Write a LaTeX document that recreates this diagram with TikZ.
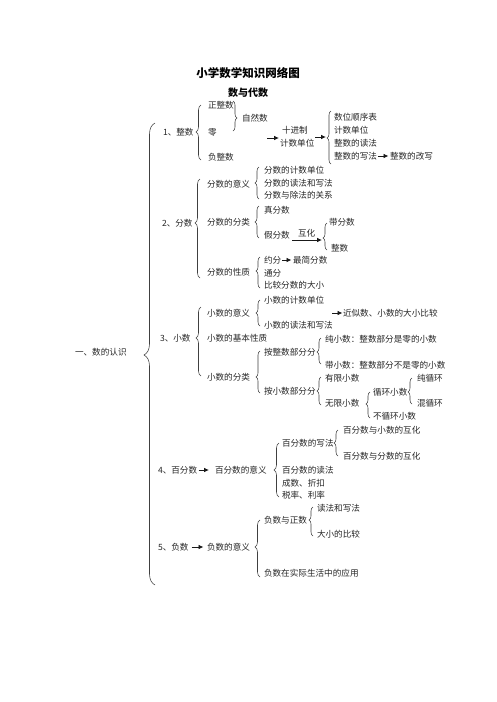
\documentclass[tikz,border=0pt]{standalone}
\usepackage{fontspec}
\setmainfont{Noto Sans CJK SC}
\usetikzlibrary{decorations.pathreplacing,arrows.meta}
\tikzset{
  t/.style={anchor=west, inner sep=0pt, outer sep=0pt, font=\fontsize{8.6}{10}\selectfont, text=black!85},
  ttl/.style={inner sep=0pt, font=\fontsize{11.5}{13}\selectfont\bfseries},
  sub/.style={inner sep=0pt, font=\fontsize{10}{12}\selectfont\bfseries},
  arr/.style={-{Latex[length=5pt,width=4.6pt]}, line width=0.8pt, black!90},
  br/.style={decorate, line width=0.55pt, black!75},
}
\newcommand\LB[5]{% x, top, tip, bottom, amplitude  (tip points left)
  \pgfmathsetmacro\brasp{(#4-#3)/(#4-#2)}
  \draw[br, decoration={brace, amplitude=#5pt, aspect=\brasp}] (#1,#4) -- (#1,#2);}
\newcommand\RB[5]{% x, top, tip, bottom, amplitude  (tip points right)
  \pgfmathsetmacro\brasp{(#3-#2)/(#4-#2)}
  \draw[br, decoration={brace, amplitude=#5pt, aspect=\brasp}] (#1,#2) -- (#1,#4);}
\begin{document}
\begin{tikzpicture}[x=1pt,y=-1pt]
\useasboundingbox (0,0) rectangle (496,702);
\fill[white] (0,0) rectangle (496,702);

\node[ttl] (title) at (248,73) {小学数学知识网络图};
\node[sub] (subt) at (248,93) {数与代数};

% big brace
\LB{155}{123}{355}{585}{11}
\node[t] (root) at (75,352) {一、数的认识};

% ---------- 1 整数
\node[t] (g1) at (163,132) {1、整数};
\LB{201}{105}{132}{160}{5}
\node[t] (zzs) at (208,105) {正整数};
\node[t] (ling) at (208,132) {零};
\node[t] (fzs) at (208,157) {负整数};
\RB{233}{101}{118}{131}{4}
\node[t] (zrs) at (242,118) {自然数};
\coordinate (a1s) at (267,138);
\node[t] (sjz) at (282,130) {十进制};
\node[t] (jsdw) at (280,143) {计数单位};
\coordinate (a1e) at (279,138);
\draw[arr] (a1s) -- (a1e);
\coordinate (a2e) at (326,137);
\draw[arr] (jsdw.east |- a2e) ++(1,0) -- (a2e);
\LB{331}{111}{138}{164}{4}
\node[t] (swsx) at (334,117) {数位顺序表};
\node[t] (jsdw2) at (334,130) {计数单位};
\node[t] (zsdf) at (334,143) {整数的读法};
\node[t] (zsxf) at (334,156) {整数的写法};
\node[t] (zsgx) at (390,156) {整数的改写};
\draw[arr] ([xshift=1pt]zsxf.east) -- ([xshift=-1.5pt]zsgx.west);

% ---------- 2 分数
\node[t] (g2) at (162,223) {2、分数};
\LB{200}{179}{223}{278}{5}
\node[t] (fsyy) at (207,184) {分数的意义};
\LB{259}{167}{183}{199}{4}
\node[t] (fsjs) at (264,170) {分数的计数单位};
\node[t] (fsdx) at (264,183) {分数的读法和写法};
\node[t] (fscf) at (264,195) {分数与除法的关系};
\node[t] (fsfl) at (207,222) {分数的分类};
\LB{259}{206}{222}{238}{4}
\node[t] (zfs) at (264,210) {真分数};
\node[t] (jfs) at (264,235) {假分数};
\node[t] (huhua) at (298,233) {互化};
\coordinate (hhs) at (292,240);
\coordinate (hhe) at (322,240);
\draw[arr] (hhs) -- (hhe);
\LB{327}{223}{238}{250}{4}
\node[t] (dfs) at (329,222) {带分数};
\node[t] (zs) at (331,248) {整数};
\node[t] (fsxz) at (207,272) {分数的性质};
\LB{260}{257}{271}{288}{4}
\node[t] (yf) at (264,260) {约分};
\node[t] (zjfs) at (293,260) {最简分数};
\draw[arr] ([xshift=1pt]yf.east) -- ([xshift=-1.5pt]zjfs.west);
\node[t] (tf) at (264,273) {通分};
\node[t] (bjfs) at (264,285) {比较分数的大小};

% ---------- 3 小数
\node[t] (g3) at (160,338) {3、小数};
\LB{201}{307}{338}{376}{5}
\node[t] (xsyy) at (207,313) {小数的意义};
\LB{260}{300}{313}{326}{4}
\node[t] (xsjs) at (264,300) {小数的计数单位};
\node[t] (xsdx) at (264,325) {小数的读法和写法};
\node[t] (jss) at (343,313) {近似数、小数的大小比较};
\coordinate (jsa) at (332,313);
\draw[arr] (jsa) -- ([xshift=-0.5pt]jss.west);
\node[t] (xsxz) at (207,338) {小数的基本性质};
\node[t] (xsfl) at (207,377) {小数的分类};
\LB{260}{351}{377}{393}{4}
\node[t] (azs) at (264,352) {按整数部分分};
\LB{321}{338}{352}{364}{4}
\node[t] (cxs) at (325,339) {纯小数：整数部分是零的小数};
\node[t] (dxs) at (325,365) {带小数：整数部分不是零的小数};
\node[t] (axs) at (264,391) {按小数部分分};
\LB{321}{377}{391}{405}{4}
\node[t] (yxxs) at (325,378) {有限小数};
\node[t] (wxxs) at (325,403) {无限小数};
\LB{370}{392}{404}{418}{4}
\node[t] (xhxs) at (373,392) {循环小数};
\LB{412}{378}{392}{404}{4}
\node[t] (cxh) at (417,378) {纯循环};
\node[t] (hxh) at (417,403) {混循环};
\node[t] (bxh) at (373,416) {不循环小数};

% ---------- 4 百分数
\node[t] (g4) at (158,470) {4、百分数};
\node[t] (bfyy) at (215,470) {百分数的意义};
\draw[arr] ([xshift=1.5pt]g4.east) -- ([xshift=-6pt]bfyy.west);
\LB{279}{443}{470}{497}{5}
\node[t] (bfxf) at (282,443) {百分数的写法};
\LB{338}{430}{443}{456}{4}
\node[t] (bfx) at (343,430) {百分数与小数的互化};
\node[t] (bff) at (343,456) {百分数与分数的互化};
\node[t] (bfdf) at (282,470) {百分数的读法};
\node[t] (cszk) at (282,483) {成数、折扣};
\node[t] (sllv) at (282,495) {税率、利率};

% ---------- 5 负数
\node[t] (g5) at (158,547) {5、负数};
\node[t] (fsy) at (207,547) {负数的意义};
\draw[arr] ([xshift=3pt]g5.east) -- ([xshift=-3.5pt]fsy.west);
\LB{260}{520}{547}{577}{5}
\node[t] (fzs2) at (264,520) {负数与正数};
\LB{313}{507}{520}{536}{4}
\node[t] (dfxf) at (317,508) {读法和写法};
\node[t] (dxbj) at (317,534) {大小的比较};
\node[t] (sjyy) at (264,573) {负数在实际生活中的应用};
\end{tikzpicture}
\end{document}
